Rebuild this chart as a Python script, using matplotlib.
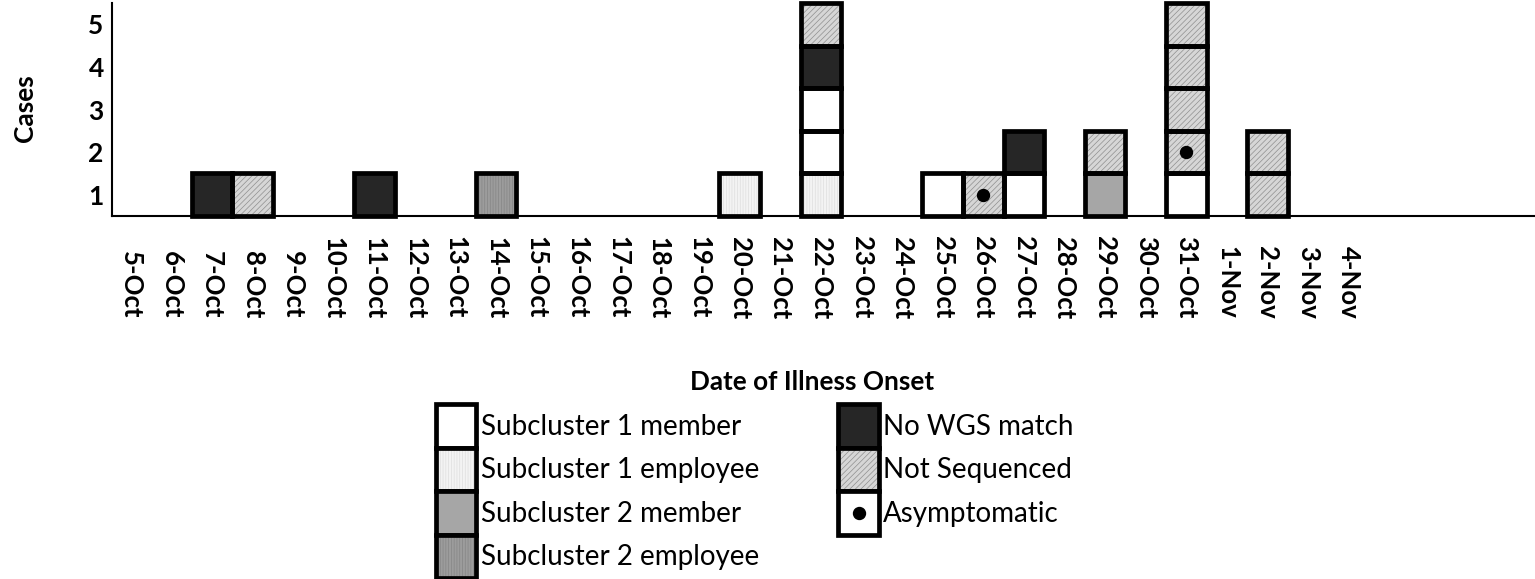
import matplotlib
matplotlib.use('Agg')
import matplotlib.pyplot as plt
from matplotlib.patches import Patch
from matplotlib.lines import Line2D
from matplotlib.legend_handler import HandlerTuple, HandlerBase

plt.rcParams['font.family'] = ['Lato', 'DejaVu Sans']
plt.rcParams['hatch.linewidth'] = 0.5

# onset dates on the x axis
dates = ['5-Oct', '6-Oct', '7-Oct', '8-Oct', '9-Oct', '10-Oct', '11-Oct', '12-Oct',
         '13-Oct', '14-Oct', '15-Oct', '16-Oct', '17-Oct', '18-Oct', '19-Oct', '20-Oct',
         '21-Oct', '22-Oct', '23-Oct', '24-Oct', '25-Oct', '26-Oct', '27-Oct', '28-Oct',
         '29-Oct', '30-Oct', '31-Oct', '1-Nov', '2-Nov', '3-Nov', '4-Nov']

# one entry per case, stacked bottom to top in this order
case_dates = ['7-Oct', '8-Oct', '11-Oct', '14-Oct', '20-Oct',
              '22-Oct', '22-Oct', '22-Oct', '22-Oct', '22-Oct',
              '25-Oct', '26-Oct', '27-Oct', '27-Oct', '29-Oct', '29-Oct',
              '31-Oct', '31-Oct', '31-Oct', '31-Oct', '31-Oct',
              '2-Nov', '2-Nov']
case_groups = ['No WGS match', 'Not Sequenced', 'No WGS match', 'Subcluster 2 employee',
               'Subcluster 1 employee',
               'Subcluster 1 employee', 'Subcluster 1 member', 'Subcluster 1 member',
               'No WGS match', 'Not Sequenced',
               'Subcluster 1 member', 'Not Sequenced', 'Subcluster 1 member', 'No WGS match',
               'Subcluster 2 member', 'Not Sequenced',
               'Subcluster 1 member', 'Not Sequenced', 'Not Sequenced', 'Not Sequenced',
               'Not Sequenced',
               'Not Sequenced', 'Not Sequenced']
asymptomatic = [0, 0, 0, 0, 0,
                0, 0, 0, 0, 0,
                0, 1, 0, 0, 0, 0,
                0, 1, 0, 0, 0,
                0, 0]

legend_labels = ['Subcluster 1 member', 'Subcluster 1 employee', 'Subcluster 2 member',
                 'Subcluster 2 employee', 'No WGS match', 'Not Sequenced', 'Asymptomatic']

# fill, hatch, hatch colour
styles = {
    'Subcluster 1 member': ('white', None, 'white'),
    'Subcluster 1 employee': ('#f3f3f3', '||||||', '#dedede'),
    'Subcluster 2 member': ('#a6a6a6', None, '#a6a6a6'),
    'Subcluster 2 employee': ('#9c9c9c', '||||||', '#858585'),
    'No WGS match': ('#262626', None, '#262626'),
    'Not Sequenced': ('#d6d6d6', '//////', '#8f8f8f'),
    'Asymptomatic': ('white', None, 'white'),
}

EDGE_LW = 3.4


class CenteredDot(HandlerBase):
    # put the marker in the middle of the legend box
    def create_artists(self, legend, orig_handle, xdescent, ydescent,
                       width, height, fontsize, trans):
        dot = Line2D([width / 2 - xdescent], [height / 2 - ydescent], marker='o',
                     linestyle='None', color='black',
                     markersize=orig_handle.get_markersize(), transform=trans)
        return [dot]


fig = plt.figure(figsize=(15.35, 5.79), dpi=100)
W, H = 1535, 579
ax = fig.add_axes([112 / W, 1 - 216 / H, 1 - 112 / W, 213 / H])

counts = {}
for d, g, a in zip(case_dates, case_groups, asymptomatic):
    x = dates.index(d)
    level = counts.get(d, 0)
    counts[d] = level + 1
    fc, hatch, hc = styles[g]
    ax.bar(x, 1, bottom=level, width=1.0, color=fc, hatch=hatch, edgecolor=hc,
           linewidth=0, zorder=2, clip_on=False)
    ax.bar(x, 1, bottom=level, width=1.0, fill=False, edgecolor='black',
           linewidth=EDGE_LW, zorder=3, clip_on=False)
    if a:
        ax.scatter([x], [level + 0.5], s=74, color='black', zorder=4, clip_on=False)

ax.set_xlim(-0.463, 34.59)
ax.set_ylim(0, 5.0)
ax.set_xticks(range(len(dates)))
ax.set_xticklabels(dates, rotation=270, va='bottom', ha='center',
                   fontsize=18.5, fontweight='bold')
ax.tick_params(axis='x', length=0, pad=74)
ax.set_yticks([0.5, 1.5, 2.5, 3.5, 4.5])
ax.set_yticklabels(['1', '2', '3', '4', '5'], fontsize=19, fontweight='bold')
ax.tick_params(axis='y', length=0, pad=6)
for s in ['top', 'right']:
    ax.spines[s].set_visible(False)
ax.spines['left'].set_linewidth(1.5)
ax.spines['bottom'].set_linewidth(1.5)

fig.text(25 / W, 1 - 108 / H, 'Cases', rotation=90, ha='center', va='center',
         fontsize=19, fontweight='bold')
fig.text(812 / W, 1 - 382 / H, 'Date of Illness Onset', ha='center', va='center',
         fontsize=18.8, fontweight='bold')

# legend: stacked boxes like the bars
handles = []
hmap = {tuple: HandlerTuple(ndivide=1, pad=0)}
for lab in legend_labels:
    fc, hatch, hc = styles[lab]
    parts = [Patch(facecolor=fc, hatch=hatch, edgecolor=hc, linewidth=0),
             Patch(fill=False, edgecolor='black', linewidth=EDGE_LW)]
    if lab == 'Asymptomatic':
        dot = Line2D([], [], marker='o', linestyle='None', color='black', markersize=8.6)
        hmap[dot] = CenteredDot()
        parts.append(dot)
    handles.append(tuple(parts))

leg_fs = 20
row_pt = 43.5 * 72 / 100
hh = (row_pt / leg_fs - 0.245) / 0.65
fig.legend(handles, legend_labels, ncol=2, loc='upper left',
           bbox_to_anchor=(435.5 / W, 1 - 404 / H), frameon=False,
           fontsize=leg_fs, handlelength=29.5 / leg_fs, handleheight=hh,
           handletextpad=0.15, labelspacing=0, columnspacing=2.85,
           borderpad=0, borderaxespad=0, handler_map=hmap)

fig.savefig('out.png', dpi=100)
